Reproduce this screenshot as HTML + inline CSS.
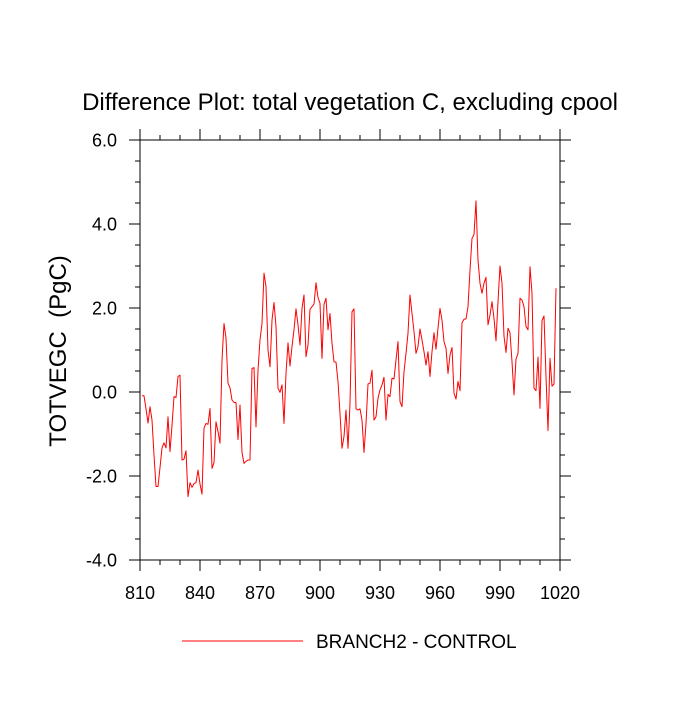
<!DOCTYPE html>
<html><head><meta charset="utf-8"><style>
body{margin:0;background:#fff}
svg text{font-family:"Liberation Sans",sans-serif;fill:#000}
</style></head><body>
<svg id="chart" width="700" height="700" viewBox="0 0 700 700" xmlns="http://www.w3.org/2000/svg">
<text x="350" y="110" font-size="24" text-anchor="middle">Difference Plot: total vegetation C, excluding cpool</text>
<text transform="translate(66,351) rotate(-90)" font-size="24" text-anchor="middle" xml:space="preserve">TOTVEGC  (PgC)</text>
<g id="axes"></g>
<g id="series"></g>
<line x1="182" y1="641" x2="303" y2="641" stroke="#ff0000" stroke-width="1"/>
<text x="316" y="648" font-size="19">BRANCH2 - CONTROL</text>
</svg>
<script>
const startYear = 811;
const values = [-0.09,-0.09,-0.4,-0.74,-0.35,-0.67,-1.5,-2.25,-2.25,-1.8,-1.33,-1.21,-1.33,-0.59,-1.42,-0.8,-0.11,-0.13,0.37,0.40,
-1.62,-1.6,-1.40,-2.49,-2.16,-2.27,-2.18,-2.16,-1.86,-2.19,-2.43,-0.86,-0.75,-0.77,-0.39,-1.82,-1.68,-0.71,-0.94,-1.22,
0.76,1.63,1.28,0.21,0.1,-0.19,-0.25,-0.25,-1.13,-0.31,-1.44,-1.70,-1.65,-1.62,-1.62,0.56,0.58,-0.83,0.52,1.24,
1.63,2.83,2.51,1.0,0.6,1.71,2.13,1.56,0.09,-0.01,0.17,-0.75,0.44,1.17,0.62,1.08,1.48,1.98,1.60,1.12,
1.99,2.31,0.84,1.12,1.97,2.03,2.09,2.60,2.25,2.11,0.80,2.09,2.23,1.48,1.87,1.16,0.72,0.71,0.25,-0.51,
-1.34,-1.06,-0.43,-1.34,-0.27,1.91,1.98,-0.40,-0.43,-0.40,-0.67,-1.44,-0.75,0.19,0.21,0.52,-0.67,-0.59,-0.15,0.05,
0.17,0.35,-0.67,-0.06,-0.11,0.33,0.31,0.76,1.20,-0.23,-0.35,0.48,0.92,1.40,2.31,1.87,1.44,0.92,1.08,1.50,
1.24,0.96,0.64,0.96,0.37,0.96,1.41,1.02,1.52,1.99,1.71,1.20,1.04,0.44,0.88,1.06,-0.03,-0.17,0.25,0.03,
1.65,1.73,1.74,2.03,2.90,3.66,3.75,4.55,3.14,2.59,2.35,2.59,2.73,1.60,1.83,2.15,1.75,1.22,2.15,3.0,
2.59,1.33,0.94,1.52,1.41,0.72,-0.07,0.78,0.92,2.23,2.19,2.03,1.56,1.48,2.98,2.35,0.09,0.03,0.83,-0.39,
1.70,1.81,0.37,-0.92,0.80,0.14,0.19,2.47];
const yTicks = [-4,-2,0,2,4,6];
const yTickLabels = ["-4.0","-2.0","0.0","2.0","4.0","6.0"];
const xTicks = [810,840,870,900,930,960,990,1020];
const xTickLabels = ["810","840","870","900","930","960","990","1020"];

const L=140,R=560,T=140,B=560,X0=810,X1=1020,Y0=-4,Y1=6;
const sx=v=>L+(v-X0)/(X1-X0)*(R-L);
const sy=v=>B-(v-Y0)/(Y1-Y0)*(B-T);
const NS="http://www.w3.org/2000/svg";
const axes=document.getElementById('axes');
function mk(tag,attrs,parent){const e=document.createElementNS(NS,tag);for(const k in attrs)e.setAttribute(k,attrs[k]);parent.appendChild(e);return e;}
const frame=mk('rect',{x:L,y:T,width:R-L,height:B-T,fill:'none',stroke:'#000','stroke-width':1},axes);


for(let v=Y0;v<=Y1+1e-9;v+=0.5){
  const major=Math.abs(v-Math.round(v/2)*2)<1e-9;
  const len=major?11:5;
  const y=sy(v);
  const a=mk('line',{x1:L-len,y1:y,x2:L,y2:y,stroke:'#000','stroke-width':1},axes);
  
  
  const b=mk('line',{x1:R,y1:y,x2:R+len,y2:y,stroke:'#000','stroke-width':1},axes);
  
  
}
for(let v=X0;v<=X1;v+=10){
  const major=(v-X0)%30===0;
  const len=major?11:5;
  const x=sx(v);
  const a=mk('line',{x1:x,y1:B,x2:x,y2:B+len,stroke:'#000','stroke-width':1},axes);
  
  
  const b=mk('line',{x1:x,y1:T-len,x2:x,y2:T,stroke:'#000','stroke-width':1},axes);
  
  
}
yTicks.forEach((v,i)=>{
  const t=mk('text',{x:117,y:sy(v)+6.5,'font-size':18,'text-anchor':'end'},axes);
  t.textContent=yTickLabels[i];
  
  
});
xTicks.forEach((v,i)=>{
  const t=mk('text',{x:sx(v),y:599,'font-size':18,'text-anchor':'middle'},axes);
  t.textContent=xTickLabels[i];
  
  
});
const pts=values.map((v,i)=>sx(startYear+i).toFixed(1)+','+sy(v).toFixed(1)).join(' ');
const line=mk('polyline',{points:pts,fill:'none',stroke:'#ff0000','stroke-width':1,'stroke-linejoin':'round'},document.getElementById('series'));


</script>
</body></html>
